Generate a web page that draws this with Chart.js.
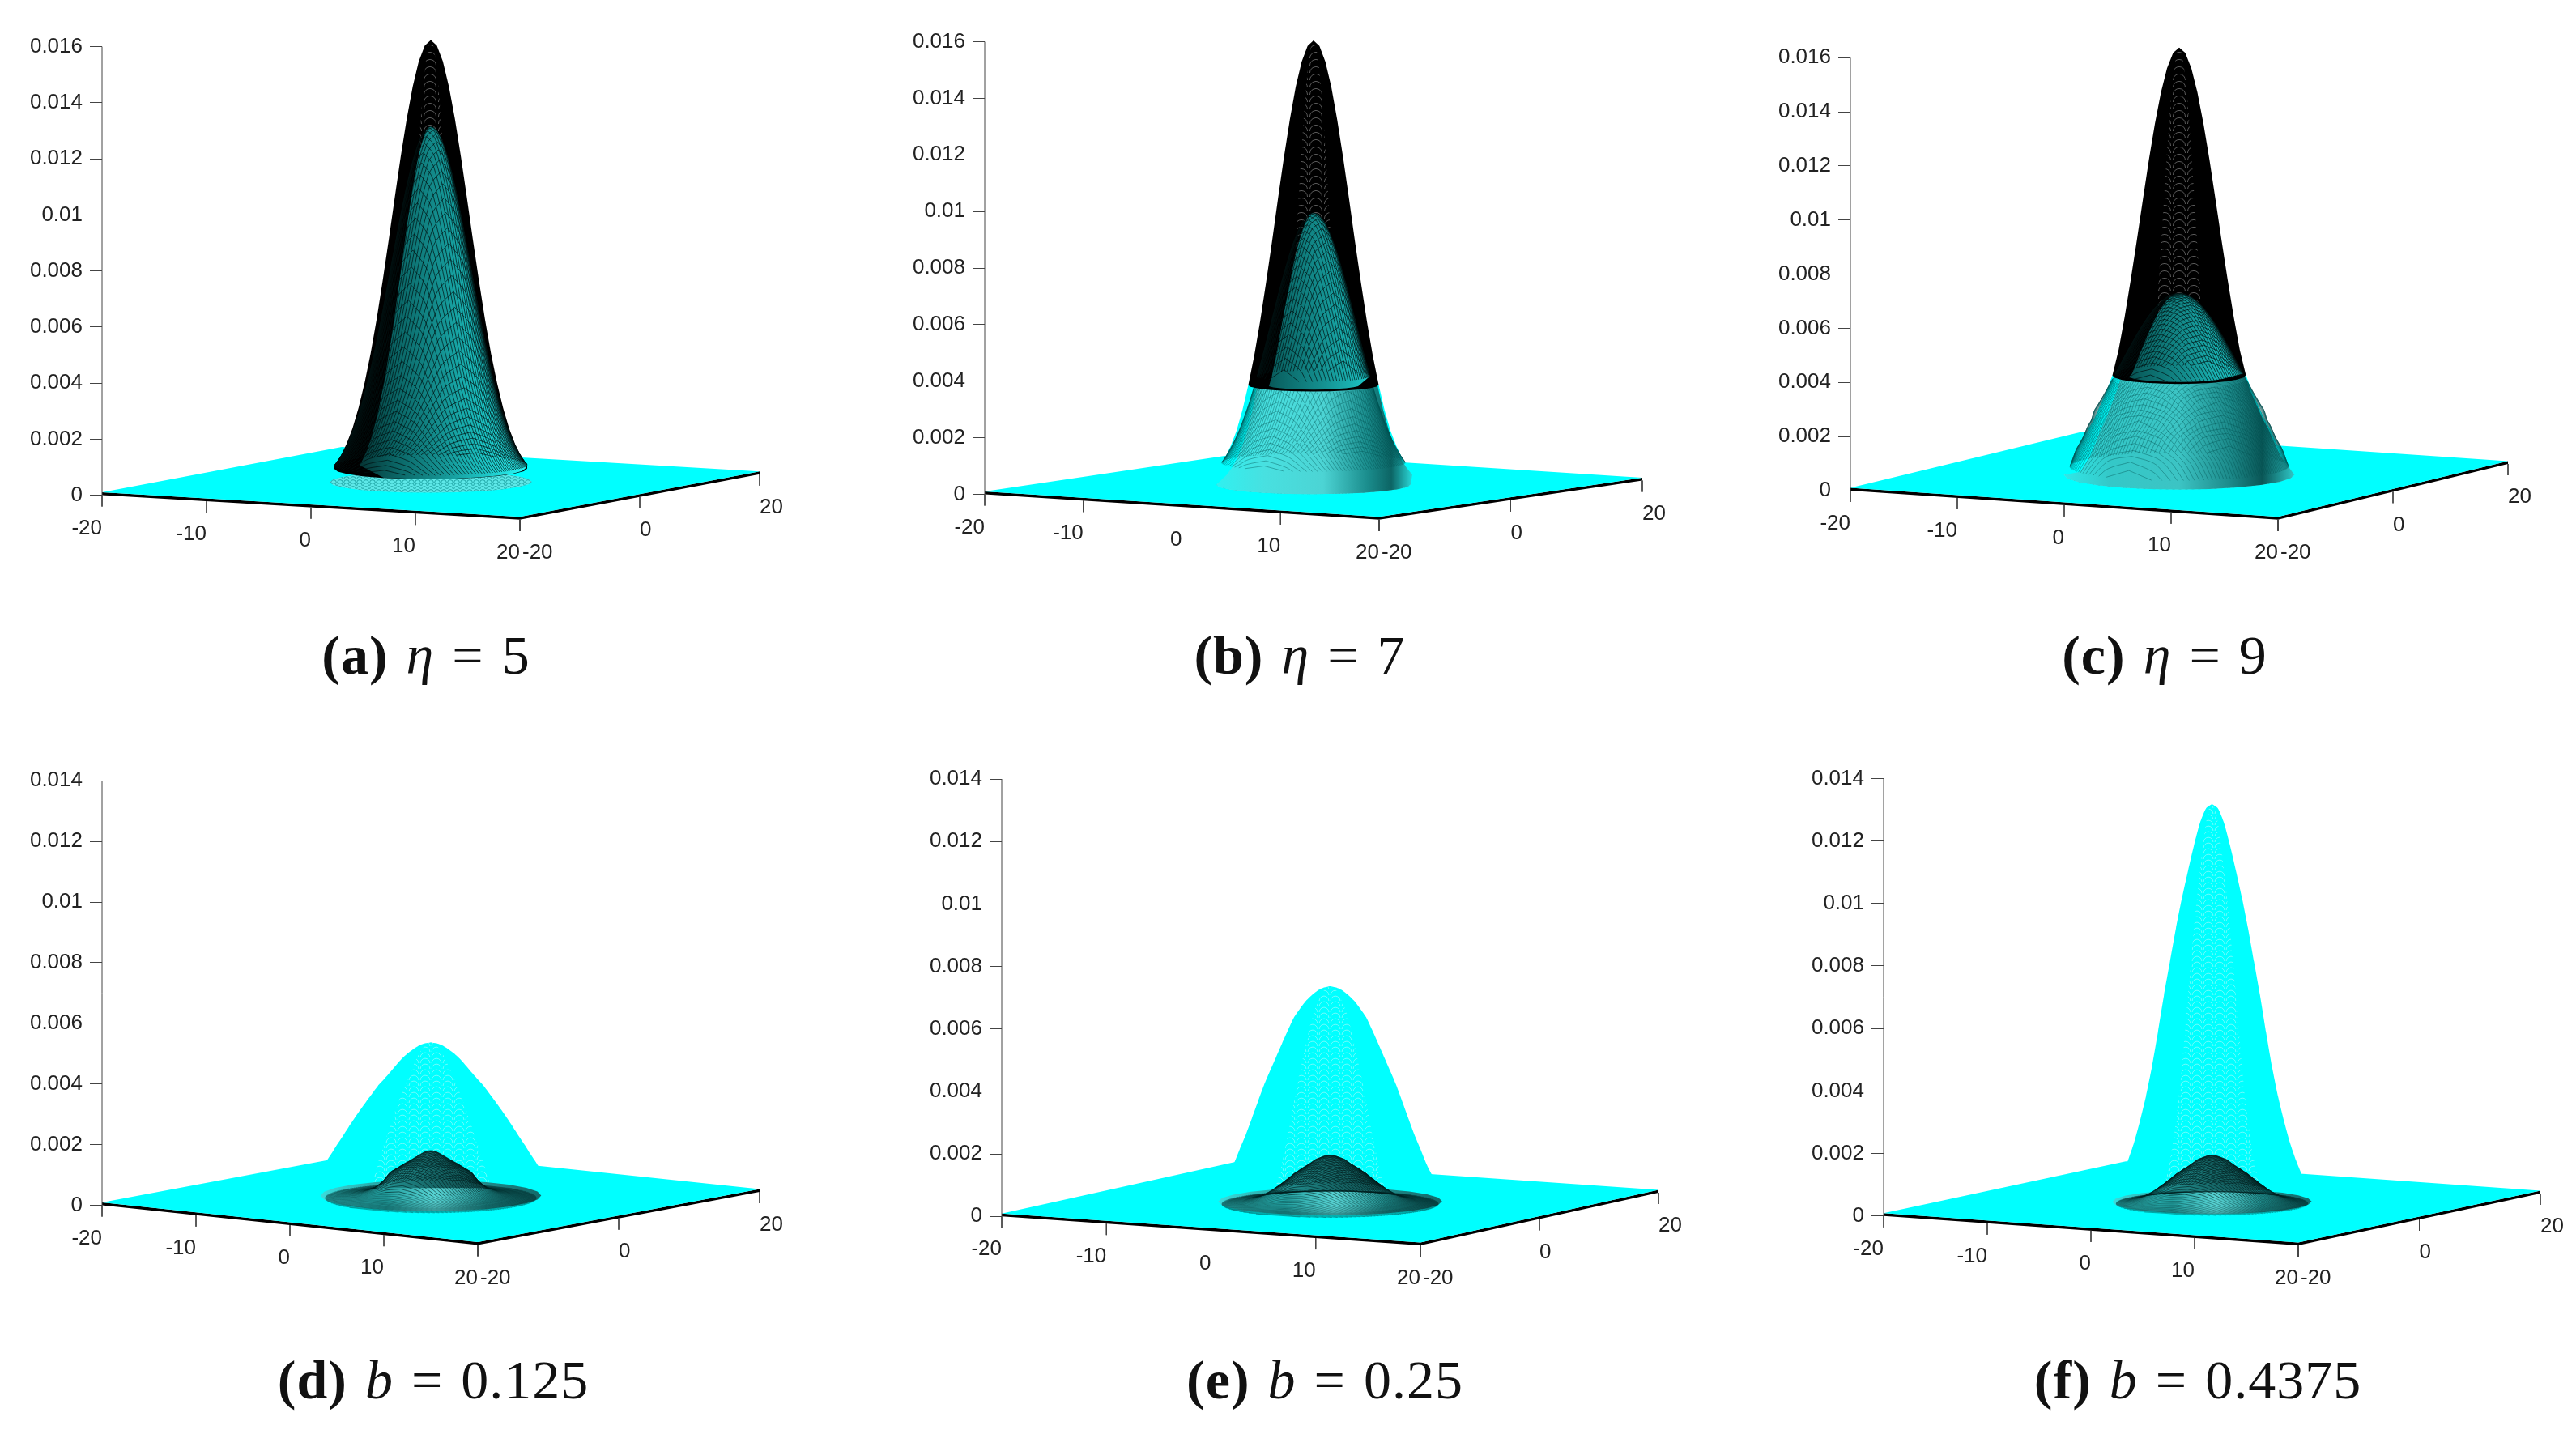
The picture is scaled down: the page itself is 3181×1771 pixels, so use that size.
<!DOCTYPE html>
<html>
<head>
<meta charset="utf-8">
<script src="https://cdn.jsdelivr.net/npm/chart.js@4"></script>
<style>
  html, body { margin: 0; background: #fff; }
  body { position: relative; width: 3181px; height: 1771px; overflow: hidden; }
  canvas { position: absolute; }
  .cap { position: absolute; transform: translate(-50%, -50%); white-space: nowrap; color: #111;
         font: 68px "Liberation Serif", serif; letter-spacing: 1px; word-spacing: 4px; }
</style>
</head>
<body>
<script>
// tick values and labels
const zTicksTop = [0, 0.002, 0.004, 0.006, 0.008, 0.01, 0.012, 0.014, 0.016];
const zTicksBottom = [0, 0.002, 0.004, 0.006, 0.008, 0.01, 0.012, 0.014];
const xTicks = [-20, -10, 0, 10, 20];
const yTicks = [-20, 0, 20];

const captionTags = ['(a)', '(b)', '(c)', '(d)', '(e)', '(f)'];
const captionVars = ['η', 'η', 'η', 'b', 'b', 'b'];
const captionVals = ['5', '7', '9', '0.125', '0.25', '0.4375'];

// radial profiles: height of each surface at the listed radius
const outerRadii = [0, 0.5, 1, 1.5, 2, 2.5, 3, 3.5, 4, 4.5, 5, 5.5, 6, 6.5, 7, 7.5, 8, 8.5, 9, 9.5, 10];
const innerRadii = [0, 0.25, 0.5, 0.75, 1, 1.25, 1.5, 1.75, 2, 2.25, 2.5, 2.75, 3, 3.25, 3.5, 3.75, 4, 4.25, 4.5, 4.75,
  5, 5.25, 5.5, 5.75, 6, 6.25, 6.5, 6.75, 7, 7.25, 7.5, 7.75, 8, 8.25, 8.5, 8.75, 9, 9.25, 9.5];

const aOuter = [0.01586, 0.01567, 0.0151, 0.01421, 0.01305, 0.0117, 0.01023, 0.00872, 0.00727, 0.0059, 0.00468, 0.00363, 0.00274, 0.00201, 0.00145, 0.00102, 0.0007];
const bOuter = [0.0158, 0.01561, 0.01505, 0.01416, 0.013, 0.01166, 0.0102, 0.00869, 0.00725, 0.00588, 0.00466, 0.00362, 0.00273, 0.002, 0.00145, 0.00102, 0.0007, 0.00045];
const cOuter = [0.01588, 0.01569, 0.01512, 0.01423, 0.01307, 0.01172, 0.01024, 0.00873, 0.00728, 0.00591, 0.00469, 0.00377, 0.00318, 0.00268, 0.00218, 0.00178, 0.00128, 0.0008, 0.0005, 0.0002];
const dOuter = [0.00515, 0.00512, 0.00505, 0.00493, 0.00478, 0.0046, 0.00438, 0.00415, 0.00393, 0.00372, 0.00346, 0.0032, 0.00293, 0.00265, 0.00236, 0.00206, 0.00177, 0.00146, 0.00117, 0.00085, 0.00055];
const eOuter = [0.00699, 0.00695, 0.00686, 0.00671, 0.00652, 0.00627, 0.00599, 0.00558, 0.00515, 0.00471, 0.00427, 0.00381, 0.00329, 0.00276, 0.00224, 0.00178, 0.0013, 0.00092, 0.0006, 0.0003];
const fOuter = [0.01282, 0.01268, 0.01222, 0.0115, 0.01068, 0.00982, 0.00885, 0.00778, 0.00671, 0.00553, 0.00442, 0.00347, 0.00268, 0.00198, 0.00142, 0.00095, 0.0006, 0.0003];

const aInner = [0.01278, 0.01274, 0.01264, 0.01246, 0.01221, 0.0119, 0.01154, 0.01112, 0.01066, 0.01015, 0.00962, 0.00906, 0.00849, 0.00791, 0.00732, 0.00674, 0.00617,
  0.00562, 0.00509, 0.00459, 0.0041, 0.00365, 0.00324, 0.00285, 0.00249, 0.00217, 0.00187, 0.00161, 0.00138, 0.00117, 0.00099, 0.00083, 0.0007];
const bInner = [0.0097, 0.00968, 0.0096, 0.00948, 0.00932, 0.00911, 0.00886, 0.00858, 0.00827, 0.00792, 0.00755, 0.00717, 0.00677, 0.00636, 0.00594, 0.00553, 0.00511,
  0.00471, 0.00432, 0.00393, 0.00357, 0.00322, 0.00289, 0.00259, 0.0023, 0.00203, 0.00179, 0.00157, 0.00137, 0.00119, 0.00102, 0.00088, 0.00075];
const cInner = [0.0068, 0.00679, 0.00676, 0.00672, 0.00666, 0.00658, 0.00649, 0.00638, 0.00626, 0.00612, 0.00597, 0.00581, 0.00564, 0.00546, 0.00527, 0.00507, 0.00487,
  0.00467, 0.00446, 0.00425, 0.00404, 0.00383, 0.00362, 0.00342, 0.00321, 0.00301, 0.00282, 0.00263, 0.00245, 0.0021, 0.0019, 0.00165, 0.0014, 0.0012, 0.001, 0.0007, 0.0004, 0.0002, 0.0001];
const dInner = [0.00158, 0.00157, 0.00154, 0.00149, 0.00143, 0.00137, 0.00131, 0.00125, 0.00119, 0.00114, 0.00108, 0.00102, 0.00096, 0.0009, 0.00084, 0.00072, 0.0006,
  0.0005, 0.00042, 0.00035, 0.00029, 0.00025, 0.00021, 0.00018, 0.00015, 0.00013, 0.00011, 0.0001, 0.00008, 0.00007, 0.00006, 0.00005, 0.00004, 0.00003, 0.00003, 0.00002, 0.00002, 0.00001, 0];
const eInner = [0.00158, 0.00157, 0.00155, 0.00151, 0.00147, 0.00143, 0.00136, 0.00129, 0.00123, 0.00117, 0.00111, 0.00104, 0.00098, 0.0009, 0.00082, 0.00075, 0.00067,
  0.0006, 0.00053, 0.00046, 0.0004, 0.00034, 0.00029, 0.00024, 0.0002, 0.00017, 0.00014, 0.00012, 0.0001, 0.00008, 0.00007, 0.00006, 0.00005, 0.00004, 0.00003, 0.00002, 0.00002, 0.00001];
const fInner = [0.00159, 0.00158, 0.00155, 0.00151, 0.00147, 0.00143, 0.00136, 0.00129, 0.00122, 0.00116, 0.0011, 0.00103, 0.00097, 0.00089, 0.00081, 0.00074, 0.00066,
  0.00059, 0.00052, 0.00045, 0.00039, 0.00033, 0.00028, 0.00023, 0.00019, 0.00016, 0.00013, 0.00011, 0.00009, 0.00007, 0.00006, 0.00005, 0.00004, 0.00003, 0.00002];

const outers = [aOuter, bOuter, cOuter, dOuter, eOuter, fOuter];
const inners = [aInner, bInner, cInner, dInner, eInner, fInner];
// height where the black part of the surface stops, and radius of the foot disc
const blackCut = [0.00057, 0.00362, 0.00377];
const footRadius = [8.4, 8.2, 9.5, 9.4, 9.3, 8.3];
const meshRowsY = [-9.25, -9, -8.75, -8.5, -8.25, -8, -7.75, -7.5, -7.25, -7, -6.75, -6.5, -6.25, -6, -5.75, -5.5, -5.25, -5, -4.75, -4.5, -4.25, -4, -3.75, -3.5, -3.25, -3, -2.75, -2.5, -2.25, -2, -1.75, -1.5, -1.25, -1, -0.75, -0.5, -0.25,
  0, 0.25, 0.5, 0.75, 1, 1.25, 1.5, 1.75, 2, 2.25, 2.5, 2.75, 3, 3.25, 3.5, 3.75, 4, 4.25, 4.5, 4.75, 5, 5.25, 5.5, 5.75, 6, 6.25, 6.5, 6.75, 7, 7.25, 7.5, 7.75, 8, 8.25, 8.5, 8.75, 9, 9.25];
const arcAngles = [0, 15, 30, 45, 60, 75, 90, 105, 120, 135, 150, 165, 180];

// page layout of the six panels, in page pixels
const layouts = [
  { left: 0,    right: 1040, top: 0,   bottom: 770,  ax: 126,  yTop: 57.6, y0: 611.6, fx: 642,  fy: 641.8, rx: 938,  ry: 585.8, zMax: 0.016, ticks: zTicksTop,    capX: 526,  capY: 809 },
  { left: 1040, right: 2160, top: 0,   bottom: 770,  ax: 1216, yTop: 51.6, y0: 610.5, fx: 1703, fy: 641.8, rx: 2028, ry: 593.5, zMax: 0.016, ticks: zTicksTop,    capX: 1605, capY: 809 },
  { left: 2160, right: 3181, top: 0,   bottom: 770,  ax: 2285, yTop: 71.3, y0: 606,   fx: 2813, fy: 641.8, rx: 3097, ry: 573,   zMax: 0.016, ticks: zTicksTop,    capX: 2673, capY: 809 },
  { left: 0,    right: 1040, top: 900, bottom: 1640, ax: 126,  yTop: 964.2, y0: 1488.6, fx: 590,  fy: 1537.4, rx: 938,  ry: 1472, zMax: 0.014, ticks: zTicksBottom, capX: 535,  capY: 1704 },
  { left: 1040, right: 2160, top: 900, bottom: 1640, ax: 1237, yTop: 962,  y0: 1502.3, fx: 1754, fy: 1538,  rx: 2048, ry: 1473, zMax: 0.014, ticks: zTicksBottom, capX: 1636, capY: 1704 },
  { left: 2160, right: 3181, top: 900, bottom: 1640, ax: 2326, yTop: 961.4, y0: 1501.8, fx: 2838, fy: 1538,  rx: 3137, ry: 1474, zMax: 0.014, ticks: zTicksBottom, capX: 2714, capY: 1704 }
];

const CYAN = '#00ffff';

function stripeTile(bg, fg, w, h) {
  const c = document.createElement('canvas');
  c.width = w; c.height = h;
  const g = c.getContext('2d');
  g.fillStyle = bg; g.fillRect(0, 0, w, h);
  g.strokeStyle = fg; g.lineWidth = 1;
  g.beginPath(); g.arc(w / 2, h, w * 0.42, Math.PI, 0); g.stroke();
  return g.createPattern(c, 'repeat');
}

// floor plane + height -> chart coordinates (x scale is in page px, y scale in height units)
function projector(p) {
  const a = (p.fx - p.ax) / 40, b = (p.rx - p.fx) / 40;
  const c = (p.fy - p.y0) / 40, d = (p.ry - p.fy) / 40;
  const pz = (p.y0 - p.yTop) / p.zMax;
  const k = Math.hypot(a, b);
  const proj = (X, Y, Z) => ({
    x: p.ax + (X + 20) * a + (Y + 20) * b,
    y: Z - ((X + 20) * c + (Y + 20) * d) / pz
  });
  const mid = proj(0, 0, 0);
  // front half of a ring of radius r at height z, from the right tip to the left one
  const arc = (r, z) => arcAngles.map(t => {
    const cs = Math.cos(t * Math.PI / 180), sn = Math.sin(t * Math.PI / 180);
    return proj(r * (cs * a + sn * b) / k, r * (cs * b - sn * a) / k, z);
  });
  return { proj, pz, k, mid, arc };
}

function outline(m, radii, heights, from, to, kLeft, kRight) {
  const lft = [], rgt = [];
  radii.forEach((r, i) => {
    if (i >= heights.length || i < from || i > to) return;
    lft.unshift({ x: m.mid.x - r * m.k * kLeft, y: heights[i] + m.mid.y });
    rgt.push({ x: m.mid.x + r * m.k * kRight, y: heights[i] + m.mid.y });
  });
  return { lft, rgt };
}

function polygon(points, color, smooth) {
  return { data: points, showLine: true, pointRadius: 0, borderWidth: 0, borderColor: 'transparent', backgroundColor: color, fill: 'shape', tension: smooth || 0, clip: false };
}
function line(points, color, width, smooth) {
  return { data: points, showLine: true, pointRadius: 0, borderWidth: width, borderColor: color, backgroundColor: 'transparent', fill: false, tension: smooth ? 0.4 : 0, clip: false };
}

// one grid row of the mesh: only radii from the table are used, so every vertex height is a read value
function meshRows(m, radii, heights, lo, hi, color, width, limit) {
  const out = [];
  meshRowsY.forEach(Y => {
    const a = [];
    radii.forEach((r, i) => {
      if (i >= heights.length || r < Math.abs(Y) || r > limit) return;
      if (heights[i] > hi || heights[i] < lo) return;
      a.push([Math.sqrt(r * r - Y * Y), heights[i]]);
    });
    if (a.length < 2) return;
    const left = a.slice().reverse().map(v => m.proj(-v[0], Y, v[1]));
    const right = a.map(v => m.proj(v[0], Y, v[1]));
    if (hi > 0.5 || a[0][0] < 0.8) {
      out.push(line(left.concat(right), color, width, true));
    } else {
      out.push(line(left, color, width, true), line(right, color, width, true));
    }
  });
  return out;
}

function hgrad(ctx, p, m, half, stops) {
  const g = ctx.createLinearGradient(m.mid.x - half - p.left, 0, m.mid.x + half - p.left, 0);
  stops.forEach(s => g.addColorStop(s[0], s[1]));
  return g;
}

function floorDatasets(p, m) {
  const lip = 3.5 / m.pz;
  const sets = [];
  // black skirt under the front edges, then the cyan plane
  sets.push(polygon([m.proj(-20, -20, lip), m.proj(20, -20, lip), m.proj(20, 20, lip), m.proj(20, 20, 0), m.proj(20, -20, 0), m.proj(-20, -20, 0)], '#000'));
  sets.push(polygon([m.proj(-20, -20, lip), m.proj(20, -20, lip), m.proj(20, 20, lip), m.proj(-20, 20, lip)], CYAN));
  // axis lines and ticks
  sets.push(line([{ x: p.ax, y: 0 }, { x: p.ax, y: p.zMax }], '#444', 1));
  const drop = 14 / m.pz;
  xTicks.forEach(v => { const q = m.proj(v, -20, 0); sets.push(line([q, { x: q.x, y: q.y - drop }], '#444', 1)); });
  yTicks.forEach(v => { const q = m.proj(20, v, 0); sets.push(line([q, { x: q.x, y: q.y - drop }], '#444', 1)); });
  return sets;
}

function discPoints(m, r, z) {
  const fr = m.arc(r, z);
  const base = m.proj(0, 0, z);
  const back = fr.map(f => ({ x: 2 * base.x - f.x, y: 2 * base.y - f.y }));
  return fr.concat(back);
}

function blackPanel(i, ctx, p, m) {
  const outer = outers[i], inner = inners[i], cut = blackCut[i];
  const sets = floorDatasets(p, m);
  const foot = footRadius[i];
  const cutIdx = outer.findIndex(v => v <= cut + 0.00002);
  const last = cutIdx < 0 ? outer.length - 1 : cutIdx;

  // pale mesh ring on the floor around the foot
  sets.push(polygon(discPoints(m, foot, 0.0001), stripeTile('#5ee8e8', '#1fa4a4', 8, 4)));

  if (i > 0) {
    // cyan lower skirt below the cut
    const low = outline(m, outerRadii, outer, last, outer.length - 1, 1, 1);
    const endR = outerRadii[outer.length - 1];
    sets.push(polygon(low.lft.slice().reverse().concat(m.arc(endR, outer[outer.length - 1]).reverse(), low.rgt.slice().reverse()), CYAN));
    // mesh inside the skirt, it starts right under the black cut
    const meshFill = hgrad(ctx, p, m, foot * m.k, i === 1
      ? [[0, '#30f0f0'], [0.25, '#48e0e0'], [0.55, '#4cd4d4'], [0.78, '#1a8c8c'], [0.9, '#0c6464'], [1, '#28d0d0']]
      : [[0, '#30e8e8'], [0.2, '#34c8c8'], [0.5, '#3cc4c4'], [0.72, '#1c8a8a'], [0.86, '#0a5656'], [1, '#30c8c8']]);
    const lo = outline(m, outerRadii, outer, last, outer.length - 1, 0.86, 0.98);
    sets.push(polygon(lo.lft.slice().reverse().concat(m.arc(foot, 0.0001).reverse(), lo.rgt.slice().reverse()), meshFill));
    sets.push(...meshRows(m, innerRadii, inner, 0, cut, 'rgba(0,80,80,0.4)', 1, foot * 0.97));
  }

  // black outer shell
  const top = outline(m, outerRadii, outer, 0, last, 1, 1);
  sets.push(polygon(top.lft.concat(top.rgt, m.arc(outerRadii[last], cut)), '#000'));
  // gray chevrons down the middle of the black part
  const strip = outline(m, outerRadii, outer, 0, last, 0.42, 0.42);
  sets.push(polygon(strip.lft.concat(strip.rgt), stripeTile('#000', '#5a5a5a', 18, 9)));

  // teal inner shell, its left side is hidden by the denser black mesh
  const innerLast = innerRadii.filter((r, j) => j < inner.length && inner[j] >= cut).length - 1;
  const body = outline(m, innerRadii, inner, 0, innerLast, 0.74, 1);
  const bodyFill = hgrad(ctx, p, m, 110, [[0, '#021c1c'], [0.3, '#0a6464'], [0.55, '#149090'], [0.8, '#1cc4c4'], [1, '#2af0f0']]);
  const closing = i === 0
    ? m.arc(innerRadii[innerLast] * 0.98, cut).slice(0, 9)
    : m.arc(innerRadii[innerLast] * 0.82, cut).slice(1, 12);
  sets.push(polygon(body.lft.concat(body.rgt, closing), bodyFill));
  sets.push(...meshRows(m, innerRadii, inner, cut, 1, 'rgba(0,15,15,0.7)', 1, foot));
  return sets;
}

function cyanPanel(i, ctx, p, m) {
  const outer = outers[i], inner = inners[i];
  const sets = floorDatasets(p, m);
  const shell = outline(m, outerRadii, outer, 0, outer.length - 1, 1, 1);
  sets.push(polygon(shell.lft.concat(shell.rgt), CYAN, 0.2));
  const strip = outline(m, outerRadii, outer, 0, outer.length - 1, 0.5, 0.5);
  sets.push(polygon(strip.lft.concat(strip.rgt), stripeTile(CYAN, '#6ffcfc', 14, 7), 0.2));

  // dark foot disc and the small bump on top of it
  const foot = footRadius[i];
  const discFill = hgrad(ctx, p, m, foot * m.k, [[0, '#3cdcdc'], [0.3, '#22a0a0'], [0.52, '#58d4d4'], [0.75, '#1f8a8a'], [1, '#136868']]);
  sets.push(polygon(discPoints(m, foot, 0.0001), discFill));
  const to = innerRadii.indexOf(4.75);
  sets.push(...meshRows(m, innerRadii, inner, 0, inner[to], 'rgba(0,35,35,0.38)', 1, foot * 0.97));
  const bump = outline(m, innerRadii, inner, 0, to, 1, 1);
  const bumpFill = hgrad(ctx, p, m, 70, [[0, '#249a9a'], [0.5, '#176a6a'], [1, '#0f4c4c']]);
  sets.push(polygon(bump.lft.concat(bump.rgt), bumpFill));
  sets.push(...meshRows(m, innerRadii, inner, inner[to], 1, 'rgba(0,25,25,0.6)', 1, foot));
  return sets;
}

const floorLabels = {
  id: 'floorLabels',
  afterDraw(chart, args, opts) {
    const { ctx, scales } = chart;
    const m = opts.m;
    ctx.save();
    ctx.fillStyle = '#222';
    ctx.font = '26px "Liberation Sans"';
    ctx.textBaseline = 'middle';
    ctx.textAlign = 'right';
    xTicks.forEach(v => {
      const q = m.proj(v, -20, 0);
      ctx.fillText(String(v), scales.x.getPixelForValue(q.x), scales.y.getPixelForValue(q.y) + 41);
    });
    ctx.textAlign = 'left';
    yTicks.forEach((v, n) => {
      const q = m.proj(20, v, 0);
      ctx.fillText(String(v), scales.x.getPixelForValue(q.x) + (n === 0 ? 3 : 0), scales.y.getPixelForValue(q.y) + 41);
    });
    ctx.restore();
  }
};

layouts.forEach((p, i) => {
  const cv = document.createElement('canvas');
  const W = p.right - p.left, H = p.bottom - p.top;
  cv.width = W; cv.height = H;
  cv.style.left = p.left + 'px'; cv.style.top = p.top + 'px';
  cv.style.width = W + 'px'; cv.style.height = H + 'px';
  document.body.appendChild(cv);
  const ctx = cv.getContext('2d');
  const m = projector(p);
  const layers = i < 3 ? blackPanel(i, ctx, p, m) : cyanPanel(i, ctx, p, m);
  // Chart.js paints the first dataset last, so hand the layers over back to front reversed
  const datasets = layers.slice().reverse();

  new Chart(ctx, {
    type: 'scatter',
    data: { datasets },
    options: {
      responsive: false,
      animation: false,
      devicePixelRatio: 1,
      events: [],
      layout: { padding: 0 },
      plugins: { legend: { display: false }, tooltip: { enabled: false }, floorLabels: { m } },
      scales: {
        x: { type: 'linear', display: false, min: p.ax, max: p.right },
        y: {
          type: 'linear',
          min: -(p.bottom - p.y0) / m.pz,
          max: p.zMax + (p.yTop - p.top) / m.pz,
          border: { display: false },
          grid: { drawOnChartArea: false, drawTicks: true, tickLength: 15, tickColor: '#444', lineWidth: 1 },
          ticks: {
            autoSkip: false, padding: 9, color: '#222', maxRotation: 0,
            font: { family: 'Liberation Sans', size: 26 },
            callback: v => String(v)
          },
          afterBuildTicks: s => { s.ticks = p.ticks.map(v => ({ value: v })); },
          afterFit: s => { s.width = p.ax - p.left; s.paddingTop = 0; s.paddingBottom = 0; }
        }
      }
    },
    plugins: [floorLabels]
  });

  const cap = document.createElement('div');
  cap.className = 'cap';
  cap.style.left = p.capX + 'px';
  cap.style.top = p.capY + 'px';
  cap.innerHTML = '<b>' + captionTags[i] + '</b> <i>' + captionVars[i] + '</i> = ' + captionVals[i];
  document.body.appendChild(cap);
});
</script>
</body>
</html>
